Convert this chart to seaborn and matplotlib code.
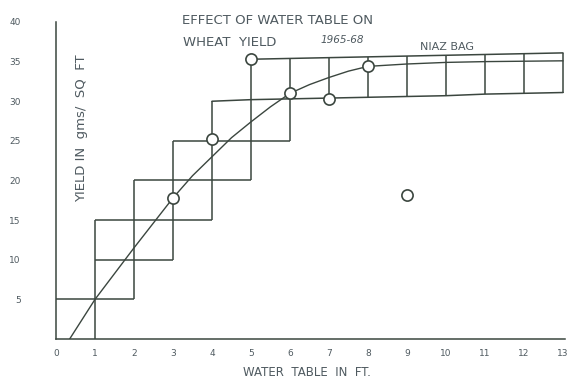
import matplotlib
matplotlib.use("Agg")
import matplotlib.pyplot as plt
import seaborn as sns
import pandas as pd

# Water table depth (ft) and the smooth yield trend drawn through the observations
curve_x = [0.35, 1, 2, 3, 3.5, 4, 4.5, 5, 5.5, 6, 6.5, 7, 7.5, 8, 9, 10, 11, 12, 13]
curve_y = [0, 5, 11.5, 17.8, 20.6, 23, 25.4, 27.4, 29.3, 31, 32.1, 33, 33.8, 34.4, 34.7, 34.9, 35.0, 35.05, 35.1]

# Observed wheat yields, 1965-68
obs_depth = [3, 4, 5, 6, 7, 8, 9]
obs_yield = [17.8, 25.2, 35.3, 31.0, 30.3, 34.4, 18.2]

# Stepped yield bands (lower steps)
band_h_y = [5, 10, 15, 20, 25]
band_h_x0 = [0, 1, 1, 2, 3]
band_h_x1 = [2, 3, 4, 5, 6]

# Upper and lower rails of the flat band, as ruled by hand
rail_top_x = [5, 6, 7, 8, 9, 10, 11, 12, 13]
rail_top_y = [35.3, 35.4, 35.5, 35.6, 35.7, 35.8, 35.9, 36.0, 36.1]
rail_low_x = [4, 5, 6, 7, 8, 9, 10, 11, 12, 13]
rail_low_y = [30.0, 30.2, 30.3, 30.4, 30.5, 30.6, 30.7, 30.9, 31.0, 31.1]

band_v_x = [1, 2, 3, 4, 5, 6, 7, 8, 9, 10, 11, 12, 13]
band_v_y0 = [0, 5, 10, 15, 20, 25, 30.4, 30.5, 30.6, 30.7, 30.9, 31.0, 31.1]
band_v_y1 = [15, 20, 25, 30, 35.3, 35.4, 35.5, 35.6, 35.7, 35.8, 35.9, 36.0, 36.1]

x_ticks = list(range(0, 14))
y_ticks = [5, 10, 15, 20, 25, 30, 35, 40]

ink = "#3b463f"
text_ink = "#4f5a60"

sns.set_theme(style="white")
plt.rcParams["font.family"] = ["DejaVu Sans"]

fig = plt.figure(figsize=(5.69, 3.81), dpi=100)
ax = fig.add_axes([0.0984, 0.1102, 0.8945, 0.8321])

ax.hlines(band_h_y, band_h_x0, band_h_x1, color=ink, lw=1.1)
ax.vlines(band_v_x, band_v_y0, band_v_y1, color=ink, lw=1.1)
ax.plot(rail_top_x, rail_top_y, color=ink, lw=1.1)
ax.plot(rail_low_x, rail_low_y, color=ink, lw=1.1)

trend = pd.DataFrame({"depth": curve_x, "yield": curve_y})
sns.lineplot(data=trend, x="depth", y="yield", ax=ax, color=ink, lw=1.0,
             sort=False, estimator=None)

obs = pd.DataFrame({"depth": obs_depth, "yield": obs_yield})
sns.scatterplot(data=obs, x="depth", y="yield", ax=ax, s=65, marker="o",
                facecolor="white", edgecolor=ink, linewidth=1.2, zorder=5)

ax.set_xlim(0, 13.05)
ax.set_ylim(0, 40)
ax.set_xticks(x_ticks)
ax.set_xticklabels([str(v) for v in x_ticks])
ax.set_yticks(y_ticks)
ax.set_yticklabels([str(v) for v in y_ticks])
ax.tick_params(axis="both", direction="inout", length=3, width=0.8, color=ink,
               labelsize=6.5, labelcolor=text_ink)
ax.tick_params(axis="y", pad=24)
ax.tick_params(axis="x", pad=6)
for side in ("top", "right"):
    ax.spines[side].set_visible(False)
for side in ("left", "bottom"):
    ax.spines[side].set_color(ink)
    ax.spines[side].set_linewidth(1.1)

ax.set_xlabel("")
ax.set_ylabel("")

fig.text(278 / 569, 1 - 20 / 381, "EFFECT OF WATER TABLE ON", ha="center", va="center",
         fontsize=9.5, color=text_ink)
fig.text(230 / 569, 1 - 42 / 381, "WHEAT  YIELD", ha="center", va="center",
         fontsize=9.5, color=text_ink)
fig.text(342 / 569, 1 - 40 / 381, "1965-68", ha="center", va="center",
         fontsize=7.5, style="italic", color=text_ink)
fig.text(447 / 569, 1 - 47 / 381, "NIAZ BAG", ha="center", va="center",
         fontsize=8, color=text_ink)
fig.text(82 / 569, 1 - 128 / 381, "YIELD IN  gms/  SQ  FT", ha="center", va="center",
         rotation=90, fontsize=9.5, color=text_ink)
fig.text(307 / 569, 1 - 372 / 381, "WATER  TABLE  IN  FT.", ha="center", va="center",
         fontsize=8.5, color=text_ink)

fig.savefig("out.png", dpi=100)
